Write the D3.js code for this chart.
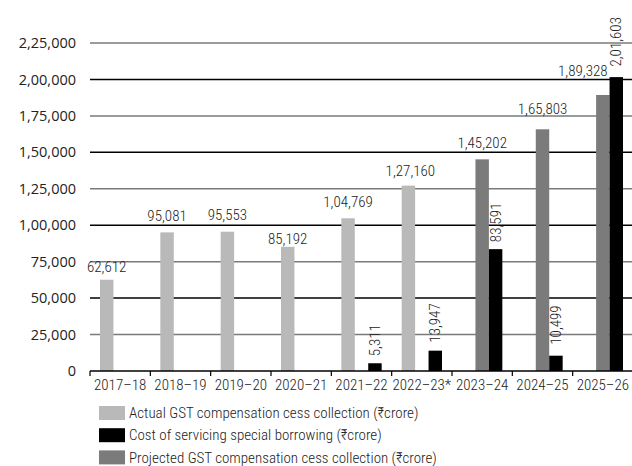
<!DOCTYPE html>
<html>
<head>
<meta charset="utf-8">
<script src="https://cdn.jsdelivr.net/npm/d3@7/dist/d3.min.js"></script>
<style>
  html, body { margin: 0; padding: 0; background: #fff; }
  svg { display: block; }
  .narrow { font-family: "Roboto Condensed", "Liberation Sans Narrow", "DejaVu Sans Condensed", sans-serif; font-weight: 300; }
</style>
</head>
<body>
<svg id="chart" width="632" height="466"></svg>
<script>
// Fiscal years on the x axis
const years = ["2017\u201318", "2018\u201319", "2019\u201320", "2020\u201321", "2021\u201322",
               "2022\u201323*", "2023\u201324", "2024\u201325", "2025\u201326"];
// Actual GST compensation cess collection (₹ crore)
const actualCess = [62612, 95081, 95553, 85192, 104769, 127160, null, null, null];
// Projected GST compensation cess collection (₹ crore)
const projectedCess = [null, null, null, null, null, null, 145202, 165803, 189328];
// Cost of servicing special borrowing (₹ crore)
const borrowingCost = [null, null, null, null, 5311, 13947, 83591, 10499, 201603];
// Y-axis ticks
const yTicks = [0, 25000, 50000, 75000, 100000, 125000, 150000, 175000, 200000, 225000];

const seriesKeys = ["actual", "projected", "cost"];
const seriesData = { actual: actualCess, projected: projectedCess, cost: borrowingCost };
const colors = { actual: "#b9b9b9", projected: "#7b7b7b", cost: "#000000" };

const legendItems = [
  { key: "actual", label: "Actual GST compensation cess collection (\u20B9crore)" },
  { key: "cost", label: "Cost of servicing special borrowing (\u20B9crore)" },
  { key: "projected", label: "Projected GST compensation cess collection (\u20B9crore)" }
];

// Hand placement of a few value labels (gap above bar, horizontal shift)
const hGap = { "2017\u201318": 8, "2020\u201321": 3, "2022\u201323*": 10, "2024\u201325": 15, "2025\u201326": 19 };
const hShift = { "2022\u201323*": 2, "2025\u201326": -20 };
const vGap = { "2021\u201322": 7, "2022\u201323*": 8, "2023\u201324": 7, "2024\u201325": 11, "2025\u201326": 10.5 };

// Indian digit grouping: 2,01,603
function inr(n) {
  const s = String(Math.round(n));
  if (s.length <= 3) return s;
  const last3 = s.slice(-3);
  let rest = s.slice(0, -3);
  const parts = [];
  while (rest.length > 2) { parts.unshift(rest.slice(-2)); rest = rest.slice(0, -2); }
  if (rest.length) parts.unshift(rest);
  return parts.join(",") + "," + last3;
}

const svg = d3.select("#chart");
const plotLeft = 90, plotRight = 633, plotTop = 43, plotBottom = 371;

const x = d3.scaleBand().domain(years).range([plotLeft, plotRight]).paddingInner(0).paddingOuter(0);
const xSub = d3.scaleBand().domain(seriesKeys).range([10, x.bandwidth() - 10]).padding(0);
const y = d3.scaleLinear().domain([0, 225000]).range([plotBottom, plotTop]);

// Horizontal gridlines, alternating grey and black
const grid = svg.append("g");
grid.selectAll("line").data(yTicks.filter(d => d > 0)).join("line")
  .attr("x1", plotLeft).attr("x2", 632)
  .attr("y1", d => y(d)).attr("y2", d => y(d))
  .attr("stroke", d => (d / 25000) % 2 === 1 ? "#7a7a7a" : "#000")
  .attr("stroke-width", 1.5);

// Y-axis labels
svg.append("g").selectAll("text").data(yTicks).join("text")
  .attr("x", 76).attr("y", d => y(d))
  .attr("dy", "0.35em")
  .attr("text-anchor", "end")
  .attr("font-family", "'Open Sans', sans-serif")
  .attr("font-size", 14.5)
  .attr("fill", "#222")
  .text(d => inr(d));

// Bars
const flat = [];
years.forEach((yr, i) => {
  seriesKeys.forEach(k => {
    const v = seriesData[k][i];
    if (v != null) flat.push({ year: yr, key: k, value: v });
  });
});

svg.append("g").selectAll("rect").data(flat).join("rect")
  .attr("x", d => x(d.year) + xSub(d.key))
  .attr("width", xSub.bandwidth())
  .attr("y", d => y(d.value))
  .attr("height", d => y(0) - y(d.value))
  .attr("fill", d => colors[d.key]);

// X axis baseline with ticks between categories
const xAxis = d3.axisBottom(x).tickSize(0).tickPadding(8);
const gx = svg.append("g").attr("transform", `translate(0,${plotBottom})`).call(xAxis);
gx.select(".domain").remove();
gx.attr("font-family", null).attr("font-size", null);
gx.selectAll("text").attr("class", "narrow").attr("font-size", 15).attr("fill", "#222");
svg.append("line").attr("x1", plotLeft).attr("x2", 632).attr("y1", plotBottom).attr("y2", plotBottom)
  .attr("stroke", "#000").attr("stroke-width", 1.5);
svg.append("g").selectAll("line").data(years).join("line")
  .attr("x1", d => x(d)).attr("x2", d => x(d))
  .attr("y1", plotBottom).attr("y2", plotBottom + 5)
  .attr("stroke", "#000").attr("stroke-width", 1.2);

// Horizontal value labels for cess collection bars
const hLabels = flat.filter(d => d.key !== "cost");
svg.append("g").selectAll("text").data(hLabels).join("text")
  .attr("class", "narrow")
  .attr("x", d => x(d.year) + xSub(d.key) + xSub.bandwidth() / 2 + (hShift[d.year] ?? 0))
  .attr("y", d => y(d.value) - (hGap[d.year] ?? 11.5))
  .attr("text-anchor", "middle")
  .attr("font-size", 15)
  .attr("fill", "#222")
  .text(d => inr(d.value));

// Vertical value labels for borrowing cost bars
const vLabels = flat.filter(d => d.key === "cost");
svg.append("g").selectAll("text").data(vLabels).join("text")
  .attr("class", "narrow")
  .attr("transform", d => {
    const cx = x(d.year) + xSub(d.key) + xSub.bandwidth() / 2;
    return `translate(${cx + 5},${y(d.value) - (vGap[d.year] ?? 7)}) rotate(-90)`;
  })
  .attr("text-anchor", "start")
  .attr("font-size", 15)
  .attr("fill", "#222")
  .text(d => inr(d.value));

// Legend
const lg = svg.append("g").attr("transform", "translate(99,406)");
const li = lg.selectAll("g").data(legendItems).join("g")
  .attr("transform", (d, i) => `translate(0,${i * 22.2})`);
li.append("rect").attr("width", 26).attr("height", 14).attr("fill", d => colors[d.key]);
li.append("text").attr("class", "narrow")
  .attr("x", 30).attr("y", 7).attr("dy", "0.34em")
  .attr("font-size", 15).attr("fill", "#222")
  .text(d => d.label);
</script>
</body>
</html>
